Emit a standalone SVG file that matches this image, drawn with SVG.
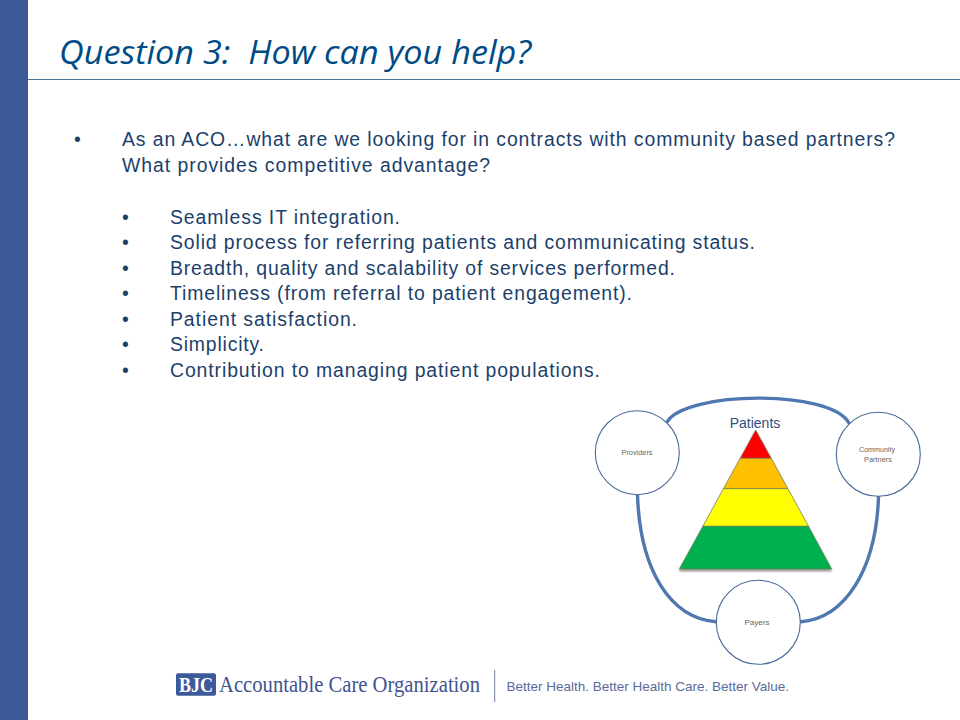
<svg xmlns="http://www.w3.org/2000/svg" width="960" height="720" viewBox="0 0 960 720">
<style>
.b{font-family:"Liberation Sans",Arial,sans-serif;font-size:19.400px;fill:#1b3f6b}
.c{fill:#fff;stroke:#4a6a9c;stroke-width:1.1}
.l{fill:none;stroke:#4f78b0;stroke-width:3.4;stroke-linecap:round}
.s{font-family:"Liberation Sans",Arial,sans-serif;font-size:7.500px;fill:#666;text-anchor:middle}
.p{stroke:#6b7a5a;stroke-width:.7}
</style>
<defs><filter id="sh" x="-10%" y="-10%" width="120%" height="120%"><feGaussianBlur in="SourceAlpha" stdDeviation="1"/><feOffset dy="1.5"/><feComponentTransfer><feFuncA type="linear" slope=".45"/></feComponentTransfer><feMerge><feMergeNode/><feMergeNode in="SourceGraphic"/></feMerge></filter></defs>
<rect width="960" height="720" fill="#fff"/>
<rect id="sidebar" width="28" height="720" fill="#3c5a98"/>
<line x1="28" y1="79.500" x2="960" y2="79.500" stroke="#4a7396" stroke-width="1"/>
<text id="title" x="59" y="64" xml:space="preserve" font-family="'Open Sans','Noto Sans',sans-serif" font-style="italic" font-size="32" fill="#004b85" textLength="472" lengthAdjust="spacingAndGlyphs">Question 3:  How can you help?</text>
<g id="body">
<text class="b" x="74" y="145.500">•</text>
<text class="b" x="122" y="145.500" textLength="773" lengthAdjust="spacing">As an ACO…what are we looking for in contracts with community based partners?</text>
<text class="b" x="122" y="171.500" textLength="368" lengthAdjust="spacing">What provides competitive advantage?</text>
<text class="b" x="122" y="223.500">•</text><text class="b" x="170" y="223.500" textLength="230" lengthAdjust="spacing">Seamless IT integration.</text>
<text class="b" x="122" y="248.500">•</text><text class="b" x="170" y="248.500" textLength="585" lengthAdjust="spacing">Solid process for referring patients and communicating status.</text>
<text class="b" x="122" y="274.500">•</text><text class="b" x="170" y="274.500" textLength="505" lengthAdjust="spacing">Breadth, quality and scalability of services performed.</text>
<text class="b" x="122" y="299.500">•</text><text class="b" x="170" y="299.500" textLength="462" lengthAdjust="spacing">Timeliness (from referral to patient engagement).</text>
<text class="b" x="122" y="325.500">•</text><text class="b" x="170" y="325.500" textLength="187" lengthAdjust="spacing">Patient satisfaction.</text>
<text class="b" x="122" y="350.500">•</text><text class="b" x="170" y="350.500" textLength="94" lengthAdjust="spacing">Simplicity.</text>
<text class="b" x="122" y="376.500">•</text><text class="b" x="170" y="376.500" textLength="430" lengthAdjust="spacing">Contribution to managing patient populations.</text>
</g>
<g id="connectors">
<path class="l" d="M667 422C685 391 830 389 849 423"/>
<path class="l" d="M637.500 495C640 570 670 618 716 621.700"/>
<path class="l" d="M878.500 497C876 570 845 618 801 621.700"/>
</g>
<g id="pyramid" filter="url(#sh)">
<polygon class="p" points="755.700,430 771.200,458.300 740.200,458.300" fill="#ff0000"/>
<polygon class="p" points="740.200,458.300 771.200,458.300 787.900,488.700 723.500,488.700" fill="#ffc000"/>
<polygon class="p" points="723.500,488.700 787.900,488.700 808.500,526.300 702.900,526.300" fill="#ffff00"/>
<polygon class="p" points="702.900,526.300 808.500,526.300 831.700,569 679.300,569" fill="#00b050"/>
</g>
<text id="patients" x="755" y="428" font-family="'Liberation Sans',Arial,sans-serif" font-size="14" fill="#2f4f7f" text-anchor="middle">Patients</text>
<g id="providers"><circle class="c" cx="637.300" cy="452.700" r="42"/><text class="s" x="637" y="455" textLength="31" lengthAdjust="spacingAndGlyphs">Providers</text></g>
<g id="community"><circle class="c" cx="878.300" cy="454.300" r="42"/><text class="s" x="877" y="452" textLength="36" lengthAdjust="spacingAndGlyphs">Community</text><text class="s" x="878" y="462" textLength="28" lengthAdjust="spacingAndGlyphs">Partners</text></g>
<g id="payers"><circle class="c" cx="758.300" cy="622.300" r="42"/><text class="s" x="757" y="625" textLength="25" lengthAdjust="spacingAndGlyphs">Payers</text></g>
<g id="logo">
<rect x="176" y="673.300" width="40" height="22.500" rx="2" fill="#3c5a98"/>
<text x="196" y="692" font-family="'Liberation Serif',serif" font-size="21" font-weight="bold" fill="#fff" text-anchor="middle" textLength="34" lengthAdjust="spacingAndGlyphs">BJC</text>
<text x="219" y="692" font-family="'Liberation Serif',serif" font-size="23" fill="#3f5490" textLength="261" lengthAdjust="spacingAndGlyphs">Accountable Care Organization</text>
<rect x="494" y="670" width="1.200" height="32" fill="#8a96b8"/>
<text x="506.500" y="691" font-family="'Liberation Sans',Arial,sans-serif" font-size="13" fill="#5a6b9b" textLength="282.500" lengthAdjust="spacingAndGlyphs">Better Health. Better Health Care. Better Value.</text>
</g>
</svg>
